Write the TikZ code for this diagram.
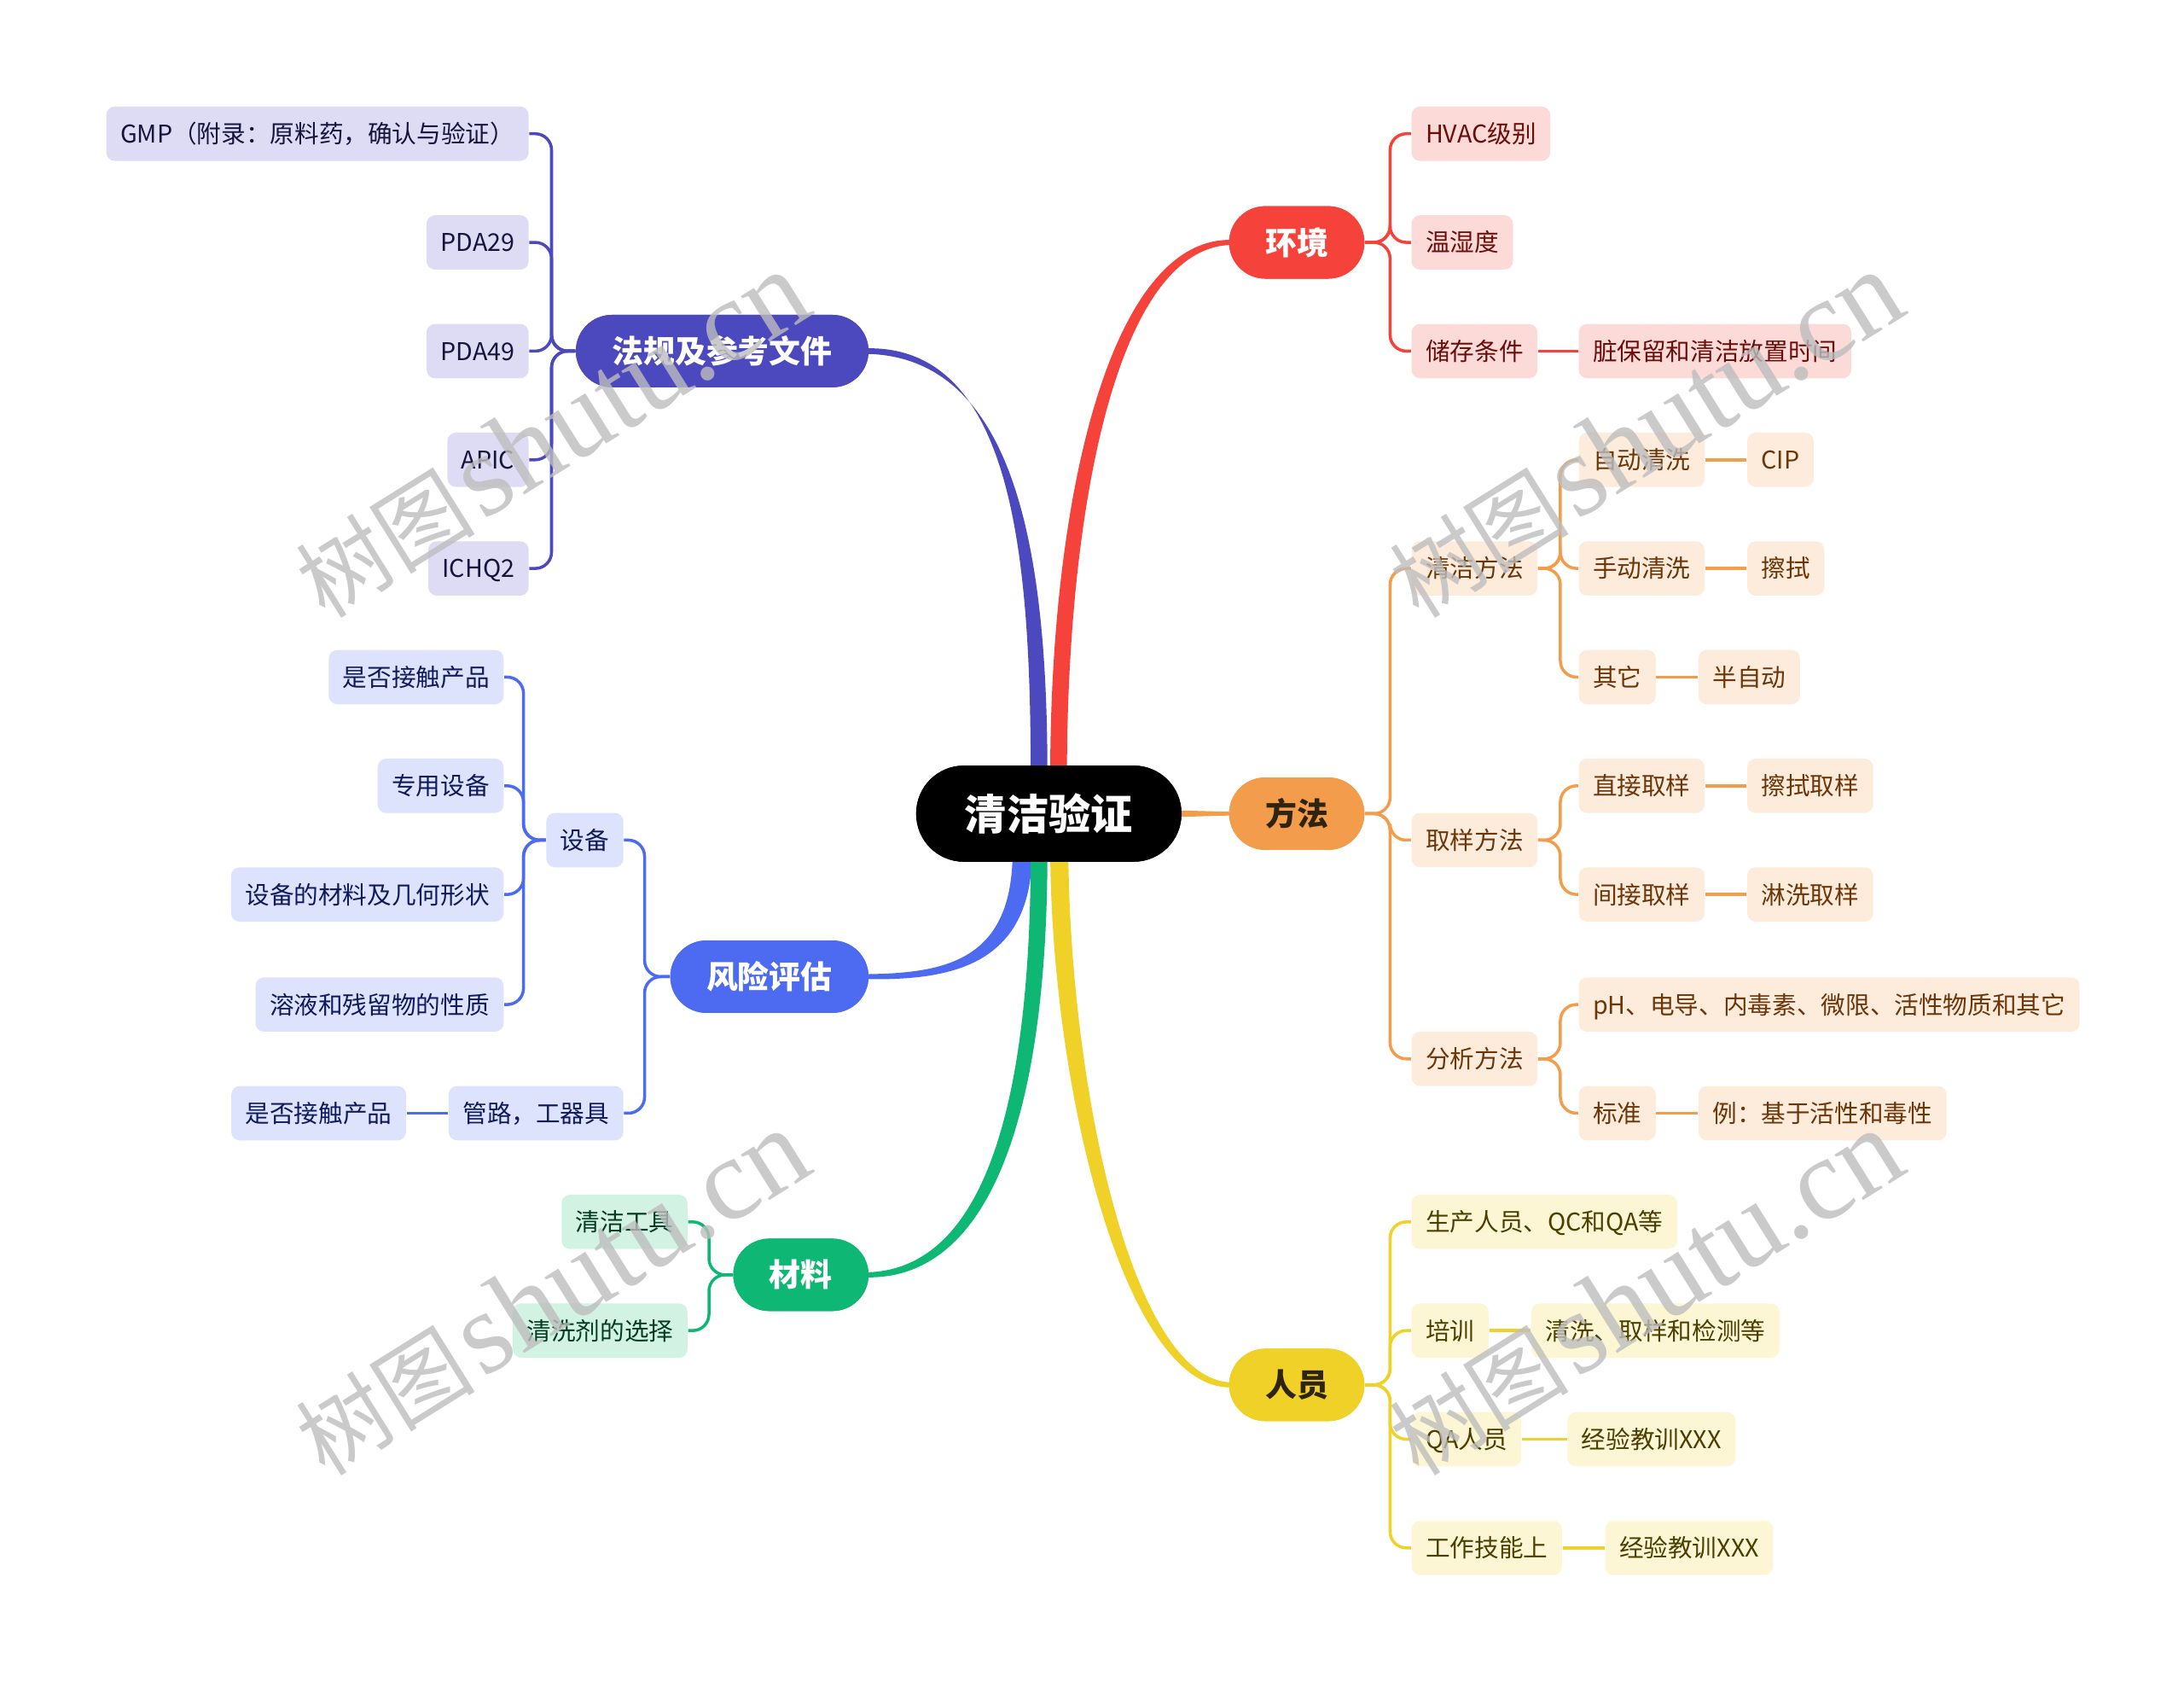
\documentclass[tikz,border=0pt]{standalone}
\usepackage{fontspec}
\setmainfont{Noto Sans CJK SC}
\newfontfamily\wmlatin{Liberation Serif}
\usetikzlibrary{calc}

\definecolor{cIndigo}{HTML}{4C49BE}
\definecolor{lIndigo}{HTML}{DEDCF4}
\definecolor{tIndigo}{HTML}{16143A}
\definecolor{cRed}{HTML}{F5433B}
\definecolor{lRed}{HTML}{FCDAD8}
\definecolor{tRed}{HTML}{6A0E0B}
\definecolor{cOrange}{HTML}{F29C4C}
\definecolor{lOrange}{HTML}{FDEBDC}
\definecolor{tOrange}{HTML}{6B3608}
\definecolor{cYellow}{HTML}{F0D127}
\definecolor{lYellow}{HTML}{FDF6D4}
\definecolor{tYellow}{HTML}{4A3F00}
\definecolor{cBlue}{HTML}{4D6BF0}
\definecolor{lBlue}{HTML}{DDE3FC}
\definecolor{tBlue}{HTML}{0F1A5C}
\definecolor{cGreen}{HTML}{0EB774}
\definecolor{lGreen}{HTML}{D2F3E4}
\definecolor{tGreen}{HTML}{053B21}
\definecolor{tMain}{HTML}{2E2410}
\definecolor{wmgray}{HTML}{BDBDBD}

\tikzset{
  leaf/.style={rounded corners=0.1cm, minimum height=0.637cm, inner xsep=0.165cm, inner ysep=0pt,
    text height=7.17pt, text depth=0.98pt, font=\fontsize{8.15pt}{9.8pt}\selectfont},
  mainbox/.style={rounded corners=0.424cm, minimum height=0.849cm, inner xsep=0.424cm, inner ysep=0pt,
    text height=9.24pt, text depth=1.26pt, font=\fontsize{10.5pt}{12pt}\selectfont\bfseries},
  rootbox/.style={fill=black, text=white, rounded corners=0.56cm, minimum height=1.127cm, inner xsep=0.571cm,
    inner ysep=0pt, text height=12.3pt, text depth=1.7pt, font=\fontsize{14pt}{16pt}\selectfont\bfseries},
  indl/.style={leaf, fill=lIndigo, text=tIndigo, anchor=east},
  redl/.style={leaf, fill=lRed, text=tRed, anchor=west},
  orgl/.style={leaf, fill=lOrange, text=tOrange, anchor=west},
  yell/.style={leaf, fill=lYellow, text=tYellow, anchor=west},
  blul/.style={leaf, fill=lBlue, text=tBlue, anchor=east},
  grnl/.style={leaf, fill=lGreen, text=tGreen, anchor=east},
  sub/.style={line width=1pt, rounded corners=0.19cm},
  wm/.style={text=wmgray, opacity=0.8, rotate=32, inner sep=0pt},
}

\begin{document}
\begin{tikzpicture}[x=0.016327cm, y=-0.016327cm]
\useasboundingbox[fill=white] (0,0) rectangle (1568,1207);

% ---------- nodes ----------
\node[rootbox] (root) at (753,584) {清洁验证};

\node[mainbox, fill=cIndigo, text=white, anchor=east] (fg) at (624,252) {法规及参考文件};
\node[mainbox, fill=cBlue, text=white, anchor=east] (fx) at (624,701) {风险评估};
\node[mainbox, fill=cGreen, text=white, anchor=east] (cl) at (624,915) {材料};
\node[mainbox, fill=cRed, text=white, anchor=west] (hj) at (882,174) {环境};
\node[mainbox, fill=cOrange, text=tMain, anchor=west] (ff) at (882,584) {方法};
\node[mainbox, fill=cYellow, text=tMain, anchor=west] (ry) at (882,994) {人员};

% indigo leaves
\node[indl] (gmp) at (380,96) {GMP（附录：原料药，确认与验证）};
\node[indl] (pda29) at (380,174) {PDA29};
\node[indl] (pda49) at (380,252) {PDA49};
\node[indl] (apic) at (380,330) {APIC};
\node[indl] (ichq) at (380,408) {ICHQ2};

% red leaves
\node[redl] (hvac) at (1013,96) {HVAC级别};
\node[redl] (wsd) at (1013,174) {温湿度};
\node[redl] (cctj) at (1013,252) {储存条件};
\node[redl] (zbl) at (1133,252) {脏保留和清洁放置时间};

% orange leaves
\node[orgl] (qjff) at (1013,408) {清洁方法};
\node[orgl] (qyff) at (1013,603) {取样方法};
\node[orgl] (fxff) at (1013,760) {分析方法};
\node[orgl] (zdqx) at (1133,330) {自动清洗};
\node[orgl] (sdqx) at (1133,408) {手动清洗};
\node[orgl] (qt) at (1133,486) {其它};
\node[orgl] (cip) at (1254,330) {CIP};
\node[orgl] (cs) at (1254,408) {擦拭};
\node[orgl] (bzd) at (1219,486) {半自动};
\node[orgl] (zjqy) at (1133,564) {直接取样};
\node[orgl] (jjqy) at (1133,642) {间接取样};
\node[orgl] (csqy) at (1254,564) {擦拭取样};
\node[orgl] (lxqy) at (1254,642) {淋洗取样};
\node[orgl] (ph) at (1133,721) {pH、电导、内毒素、微限、活性物质和其它};
\node[orgl] (bz) at (1133,799) {标准};
\node[orgl] (li) at (1219,799) {例：基于活性和毒性};

% yellow leaves
\node[yell] (sc) at (1013,877) {生产人员、QC和QA等};
\node[yell] (px) at (1013,955) {培训};
\node[yell] (qa) at (1013,1033) {QA人员};
\node[yell] (gz) at (1013,1111) {工作技能上};
\node[yell] (pxc) at (1099,955) {清洗、取样和检测等};
\node[yell] (qac) at (1125,1033) {经验教训XXX};
\node[yell] (gzc) at (1152,1111) {经验教训XXX};

% blue leaves
\node[blul] (sb) at (448,603) {设备};
\node[blul] (gl) at (448,799) {管路，工器具};
\node[blul] (sb1) at (362,486) {是否接触产品};
\node[blul] (sb2) at (362,564) {专用设备};
\node[blul] (sb3) at (362,642) {设备的材料及几何形状};
\node[blul] (sb4) at (362,721) {溶液和残留物的性质};
\node[blul] (gl1) at (292,799) {是否接触产品};

% green leaves
\node[grnl] (qjgj) at (494,877) {清洁工具};
\node[grnl] (qxj) at (494,955) {清洗剂的选择};

% ---------- sub connectors ----------
\foreach \c in {gmp,pda29,pda49,apic,ichq}
  \draw[sub, cIndigo] (fg.west) -- ++(-17,0) |- (\c.east);
\foreach \c in {hvac,wsd,cctj}
  \draw[sub, cRed] (hj.east) -- ++(18,0) |- (\c.west);
\draw[sub, cRed] (cctj.east) -- (zbl.west);

\foreach \c in {qjff,qyff,fxff}
  \draw[sub, cOrange] (ff.east) -- ++(18,0) |- (\c.west);
\foreach \c in {zdqx,sdqx,qt}
  \draw[sub, cOrange] (qjff.east) -- ++(16,0) |- (\c.west);
\foreach \c in {zjqy,jjqy}
  \draw[sub, cOrange] (qyff.east) -- ++(16,0) |- (\c.west);
\foreach \c in {ph,bz}
  \draw[sub, cOrange] (fxff.east) -- ++(16,0) |- (\c.west);
\draw[sub, cOrange] (zdqx.east) -- (cip.west);
\draw[sub, cOrange] (sdqx.east) -- (cs.west);
\draw[sub, cOrange] (qt.east) -- (bzd.west);
\draw[sub, cOrange] (zjqy.east) -- (csqy.west);
\draw[sub, cOrange] (jjqy.east) -- (lxqy.west);
\draw[sub, cOrange] (bz.east) -- (li.west);

\foreach \c in {sc,px,qa,gz}
  \draw[sub, cYellow] (ry.east) -- ++(18,0) |- (\c.west);
\draw[sub, cYellow] (px.east) -- (pxc.west);
\draw[sub, cYellow] (qa.east) -- (qac.west);
\draw[sub, cYellow] (gz.east) -- (gzc.west);

\foreach \c in {sb,gl}
  \draw[sub, cBlue] (fx.west) -- ++(-18,0) |- (\c.east);
\foreach \c in {sb1,sb2,sb3,sb4}
  \draw[sub, cBlue] (sb.west) -- ++(-16,0) |- (\c.east);
\draw[sub, cBlue] (gl.west) -- (gl1.east);

\foreach \c in {qjgj,qxj}
  \draw[sub, cGreen] (cl.west) -- ++(-17,0) |- (\c.east);

% ---------- main tapered connectors ----------
\fill[cIndigo] ($(root.north)+(-13,8)$) .. controls ($(root.north)+(-13,-154)$) and ($(fg.east)+(102,-4)$) .. ($(fg.east)+(-2,-2)$)
  -- ($(fg.east)+(-2,2)$) .. controls ($(fg.east)+(108,4)$) and ($(root.north)+(-1,-144)$) .. ($(root.north)+(-1,8)$) -- cycle;
\fill[cRed] ($(root.north)+(1,8)$) .. controls ($(root.north)+(1,-195)$) and ($(hj.west)+(-84,-3.5)$) .. ($(hj.west)+(2,-1.8)$)
  -- ($(hj.west)+(2,1.8)$) .. controls ($(hj.west)+(-80,3.5)$) and ($(root.north)+(13,-184)$) .. ($(root.north)+(13,8)$) -- cycle;
\fill[cBlue] ($(root.south)+(-26,-8)$) .. controls ($(root.south)+(-26,70)$) and ($(fx.east)+(56,-2.5)$) .. ($(fx.east)+(-2,-1.8)$)
  -- ($(fx.east)+(-2,1.8)$) .. controls ($(fx.east)+(56,2.5)$) and ($(root.south)+(-12,76)$) .. ($(root.south)+(-12,-8)$) -- cycle;
\fill[cGreen] ($(root.south)+(-13,-8)$) .. controls ($(root.south)+(-13,170)$) and ($(cl.east)+(84,-3.5)$) .. ($(cl.east)+(-2,-1.8)$)
  -- ($(cl.east)+(-2,1.8)$) .. controls ($(cl.east)+(88,3.5)$) and ($(root.south)+(-1,178)$) .. ($(root.south)+(-1,-8)$) -- cycle;
\fill[cYellow] ($(root.south)+(1,-8)$) .. controls ($(root.south)+(2,166)$) and ($(ry.west)+(-74,3.5)$) .. ($(ry.west)+(2,1.8)$)
  -- ($(ry.west)+(2,-1.8)$) .. controls ($(ry.west)+(-70,-3.5)$) and ($(root.south)+(15,158)$) .. ($(root.south)+(14,-8)$) -- cycle;
\fill[cOrange] ($(root.east)+(-8,-2.5)$) -- ($(ff.west)+(2,-1.3)$) -- ($(ff.west)+(2,1.3)$) -- ($(root.east)+(-8,2.5)$) -- cycle;

% redraw nodes on top of connectors
\node[rootbox] at (root.center) {清洁验证};
\node[mainbox, fill=cIndigo, text=white] at (fg.center) {法规及参考文件};
\node[mainbox, fill=cBlue, text=white] at (fx.center) {风险评估};
\node[mainbox, fill=cGreen, text=white] at (cl.center) {材料};
\node[mainbox, fill=cRed, text=white] at (hj.center) {环境};
\node[mainbox, fill=cOrange, text=tMain] at (ff.center) {方法};
\node[mainbox, fill=cYellow, text=tMain] at (ry.center) {人员};

% ---------- watermarks ----------
\foreach \p/\n in {{(396,312)}/wa,{(1181,312)}/wb,{(396,928)}/wc,{(1181,928)}/wd}
  \node[wm] (\n) at \p {{\fontsize{30pt}{30pt}\selectfont 树图} {\wmlatin\fontsize{39pt}{39pt}\selectfont shutu.cn}};
\end{tikzpicture}
\end{document}
